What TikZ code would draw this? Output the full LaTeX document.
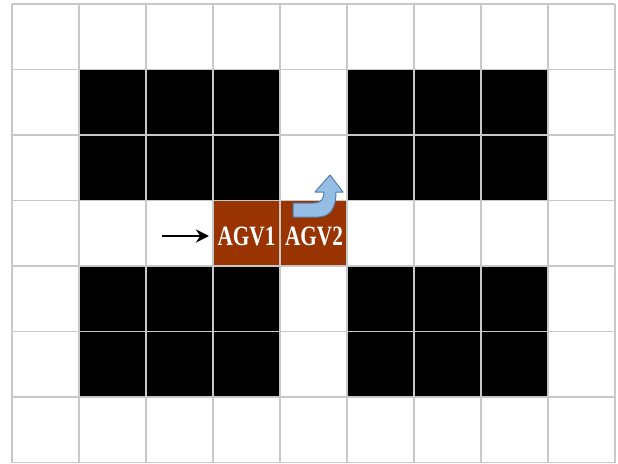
\documentclass[tikz,border=0pt]{standalone}
\usepackage{fontspec}
\setmainfont{Liberation Serif}
\usetikzlibrary{arrows.meta}
\definecolor{gridgray}{RGB}{200,200,200}
\definecolor{agvbrown}{RGB}{153,51,0}
\definecolor{bluefill}{RGB}{150,190,228}
\definecolor{blueline}{RGB}{80,126,174}
\begin{document}
\begin{tikzpicture}[x=1pt,y=-1pt,
  cellblack/.style={fill=black},
  agvcell/.style={fill=agvbrown},
  gridline/.style={draw=gridgray,line width=1.6pt},
  agvtext/.style={text=white,font=\bfseries\fontsize{28}{28}\selectfont,inner sep=0pt}]
\useasboundingbox[fill=white] (0,0) rectangle (618,463);
% black blocks
\foreach \c in {1,2,3,5,6,7}{
  \foreach \r in {1,2,4,5}{
    \fill[cellblack] ({12+67*\c},{4+65.5*\r}) rectangle ++(67,65.5);
  }
}
% AGV cells
\fill[agvcell] (213,200.5) rectangle (280,266);
\fill[agvcell] (280,200.5) rectangle (347,266);
% grid
\foreach \c in {0,...,9}{
  \draw[gridline] ({12+67*\c},4) -- ({12+67*\c},462.5);
}
\foreach \r in {0,...,7}{
  \draw[gridline] (12,{4+65.5*\r}) -- (615,{4+65.5*\r});
}
% labels
\node[agvtext] (agv1) at (246.5,236.5) {\scalebox{0.76}[1]{AGV1}};
\node[agvtext] (agv2) at (314,236.5) {\scalebox{0.76}[1]{AGV2}};
% black arrow
\coordinate (arrstart) at (162,236);
\draw[line width=2.6pt,-{Stealth[length=13pt,width=13pt]}] (arrstart) -- (209,236);
% blue bent arrow
\filldraw[fill=bluefill,draw=blueline,line width=1pt,line join=round]
  (293,217) -- (318,217) .. controls (331,217) and (336,207) .. (336,192)
  -- (343,192) -- (330,175) -- (315,192) -- (324,192)
  .. controls (324,199) and (321,203) .. (314,203) -- (293,203) -- cycle;
\end{tikzpicture}
\end{document}
